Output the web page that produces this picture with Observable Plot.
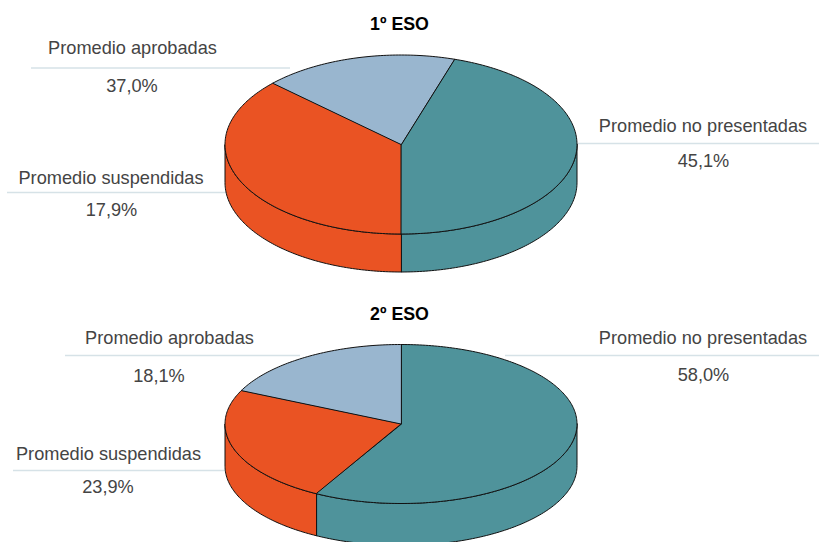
<!DOCTYPE html>
<html>
<head>
<meta charset="utf-8">
<script src="https://cdn.jsdelivr.net/npm/d3@7"></script>
<script src="https://cdn.jsdelivr.net/npm/@observablehq/plot@0.6"></script>
<style>html,body{margin:0;padding:0;background:#fff}svg{display:block}</style>
</head>
<body>
<div id="chart"></div>
<script>
// Data
const courses = ["1º ESO", "2º ESO"];
const sliceCategories = ["no presentadas", "suspendidas", "aprobadas"];
const sharesESO1 = [45.1, 37.0, 17.9];
const sharesESO2 = [58.0, 23.9, 18.1];
const startAngles = [17.64, 0];
const labelNames = ["Promedio no presentadas", "Promedio suspendidas", "Promedio aprobadas"];
const labelValuesESO1 = ["45,1%", "17,9%", "37,0%"];
const labelValuesESO2 = ["58,0%", "23,9%", "18,1%"];
const sliceColors = ["#4f939b", "#ea5323", "#99b6cf"];

// Layout
const pies = [
  {shares: sharesESO1, start: startAngles[0], cx: 400.5, cy: 144, rx: 176, ry: 89.5, depth: 38},
  {shares: sharesESO2, start: startAngles[1], cx: 400.5, cy: 423.5, rx: 176, ry: 79.5, depth: 42}
];
const titlePos = [{x: 399, y: 24}, {x: 399, y: 314}];
const labelPos = [
  [{x: 702.5, yn: 126, xv: 703, yv: 161, x1: 577, x2: 819, yl: 143},
   {x: 110.5, yn: 178, xv: 111, yv: 210, x1: 7, x2: 232, yl: 192},
   {x: 132, yn: 48, xv: 131.5, yv: 86, x1: 31, x2: 290, yl: 67.5}],
  [{x: 702.5, yn: 338, xv: 703, yv: 375, x1: 505, x2: 819, yl: 355},
   {x: 108, yn: 454, xv: 107.5, yv: 487, x1: 13, x2: 228, yl: 470},
   {x: 169, yn: 338, xv: 158.5, yv: 376, x1: 65, x2: 300, yl: 355}]
];

const rad = d => d * Math.PI / 180;
const tops = [], walls = [];
pies.forEach((p, pi) => {
  let a = p.start;
  const pt = (deg, dy = 0) => ({x: p.cx + p.rx * Math.sin(rad(deg)), y: p.cy - p.ry * Math.cos(rad(deg)) + dy});
  p.shares.forEach((s, i) => {
    const a0 = a, a1 = a + s * 3.6;
    a = a1;
    const cat = sliceCategories[i];
    const arc = d3.range(a0, a1, 1).concat([a1]);
    const topId = `t${pi}-${i}`;
    tops.push({id: topId, cat, x: p.cx, y: p.cy});
    arc.forEach(d => tops.push({id: topId, cat, ...pt(d)}));
    const w0 = Math.max(a0, 90), w1 = Math.min(a1, 270);
    if (w1 > w0) {
      const warc = d3.range(w0, w1, 1).concat([w1]);
      const wId = `w${pi}-${i}`;
      warc.forEach(d => walls.push({id: wId, cat, ...pt(d)}));
      warc.slice().reverse().forEach(d => walls.push({id: wId, cat, ...pt(d, p.depth)}));
    }
  });
});

const rules = [], names = [], values = [];
labelPos.forEach((row, ci) => row.forEach((l, i) => {
  rules.push(l);
  names.push({x: l.x, y: l.yn, t: labelNames[i]});
  values.push({x: l.xv, y: l.yv, t: (ci ? labelValuesESO2 : labelValuesESO1)[i]});
}));
const titles = courses.map((t, i) => ({t, ...titlePos[i]}));

const font = "'Liberation Sans', Arial, sans-serif";
const pieStyle = {x: "x", y: "y", z: "id", fill: "cat", stroke: "#111", strokeWidth: 1, curve: "linear-closed", strokeLinejoin: "round"};

const chart = Plot.plot({
  width: 819, height: 542,
  margin: 0,
  style: {background: "#fff", fontFamily: font},
  x: {domain: [0, 819], range: [0, 819], axis: null},
  y: {domain: [0, 542], range: [0, 542], axis: null},
  color: {domain: sliceCategories, range: sliceColors},
  marks: [
    Plot.ruleY(rules, {y: "yl", x1: "x1", x2: "x2", stroke: "#d6e2e7", strokeWidth: 1.3}),
    Plot.line(walls, pieStyle),
    Plot.line(tops, pieStyle),
    Plot.text(titles, {x: "x", y: "y", text: "t", fontWeight: "bold", fontSize: 17.8, fill: "#000", fontFamily: font}),
    Plot.text(names, {x: "x", y: "y", text: "t", fontSize: 18.2, fill: "#444", fontFamily: font}),
    Plot.text(values, {x: "x", y: "y", text: "t", fontSize: 18.2, fill: "#444", fontFamily: font})
  ]
});
document.getElementById("chart").appendChild(chart);
</script>
</body>
</html>
